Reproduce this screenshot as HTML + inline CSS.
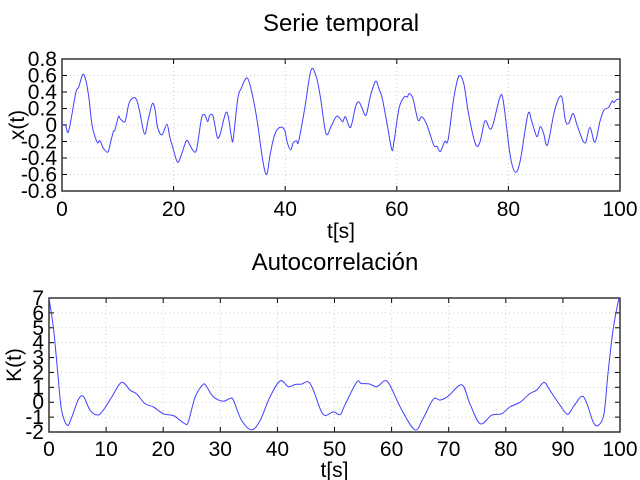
<!DOCTYPE html>
<html><head><meta charset="utf-8"><style>
body{margin:0;background:#fff;}
svg{display:block;font-family:"Liberation Sans",sans-serif;}
</style></head><body>
<svg id="c" width="640" height="480"></svg>
<script>
const topT=[0,0.6,1.1,1.7,2.5,3,3.7,4.2,4.8,5.4,6.3,6.8,7.4,8.2,8.6,9.2,9.5,10.1,10.4,11,11.4,12,12.8,13.4,14,14.8,15.5,16.2,16.7,17.1,17.9,18.8,19.3,19.9,20.7,21.4,22.3,22.9,23.4,24.1,25,25.6,26.1,26.5,27.1,27.8,28.3,29.3,29.8,30.4,30.7,31.5,32.1,33.2,34.2,35,36,36.7,37.3,38.1,39,39.9,40.4,41,41.4,42,42.4,43.5,44.6,45.5,46.3,47.3,48.2,49.1,49.7,50.3,50.8,51.7,52.6,53.2,53.8,54.5,55.3,56.2,56.8,57.4,58.3,59.1,59.5,60.4,61.3,61.9,62.2,62.9,63.8,64.5,65.4,66.6,67.2,67.8,68.6,69.2,70.2,71.1,72,72.9,74.1,74.9,75.8,76.7,77.3,78.5,79.1,80.3,81.2,82.1,83.5,84.2,85.1,85.7,86.3,87,88.3,89.5,90.2,90.8,91.6,92.4,93.7,94.6,95.5,96.4,97.1,97.9,98.6,98.9,99.4,100];
const topV=[0,0,-0.09,0.1,0.4,0.46,0.61,0.56,0.34,0,-0.21,-0.19,-0.28,-0.33,-0.24,-0.08,-0.06,0.1,0.08,0.04,0.06,0.26,0.33,0.3,0.14,-0.11,0.08,0.26,0.18,-0.02,-0.12,0.01,-0.14,-0.28,-0.45,-0.36,-0.19,-0.24,-0.3,-0.3,0.08,0.12,0.04,0.12,0.1,-0.14,-0.12,0.14,0.1,-0.16,-0.16,0.32,0.44,0.57,0.34,0.04,-0.44,-0.6,-0.36,-0.12,-0.03,-0.06,-0.22,-0.3,-0.22,-0.19,-0.2,0.2,0.66,0.6,0.34,-0.1,-0.02,0.1,0.09,0.04,0.1,-0.03,0.22,0.28,0.2,0.12,0.36,0.53,0.44,0.32,0,-0.3,-0.2,0.2,0.34,0.34,0.38,0.32,0.06,0.1,0,-0.24,-0.26,-0.32,-0.2,-0.18,0.32,0.59,0.5,0.12,-0.23,-0.21,0.05,-0.05,0.02,0.34,0.28,-0.36,-0.57,-0.44,0.13,0.04,-0.14,-0.02,-0.1,-0.24,0.18,0.35,0.06,0.02,0.14,-0.02,-0.22,-0.03,-0.21,0.04,0.18,0.21,0.29,0.27,0.31,0.31];
const botT=[0,0.8,1.6,2.2,3.2,4,5.1,6,7.2,8.5,9.5,11,12.7,14.2,15.4,16.8,18.3,20,21.8,22.9,23.8,24.4,25.6,27,27.6,28.8,30.5,31.7,32.3,33.7,35.5,37,38.7,40.5,41.9,43.1,44.2,45.4,46.3,48,49.8,51,51.8,53.9,54.7,56.2,57.4,58.8,59.7,61.8,64.1,65.5,67.3,68.5,69.9,72.3,73.7,75.5,77.5,79.3,80.7,82.5,84.2,85.4,86.7,87.7,89.5,90.8,91.8,93.3,94.2,95.3,96.2,97.2,97.9,98.8,99.7,100];
const botV=[7,4.9,1.7,-0.54,-1.55,-1,0.14,0.4,-0.54,-0.86,-0.54,0.36,1.33,0.81,0.54,-0.09,-0.32,-0.77,-0.9,-1.2,-1.44,-1.33,0.36,1.2,1.04,0.36,0.07,0.25,0.14,-1.2,-1.85,-1.2,0.36,1.44,1.04,1.2,1.22,1.37,0.81,-0.81,-0.65,-0.83,-0.2,1.35,1.26,1.22,1.04,1.44,1.15,-0.54,-1.85,-1.1,0.2,0.14,0.4,1.17,-0.09,-1.44,-0.88,-0.77,-0.32,0,0.58,0.81,1.33,0.81,-0.2,-0.81,-0.32,0.4,-0.09,-1.33,-1.55,-0.77,1.94,4.87,6.78,7];
const topXTicks=[0,20,40,60,80,100];
const topYTicks=["0.8","0.6","0.4","0.2","0","-0.2","-0.4","-0.6","-0.8"];
const botXTicks=[0,10,20,30,40,50,60,70,80,90,100];
const botYTicks=["7","6","5","4","3","2","1","0","-1","-2"];

const NS="http://www.w3.org/2000/svg";
const svg=document.getElementById('c');
function mk(tag,attrs,parent){const e=document.createElementNS(NS,tag);for(const k in attrs)e.setAttribute(k,attrs[k]);(parent||svg).appendChild(e);return e;}
function txt(s,x,y,size,anchor,parent){const e=mk('text',{x:x,y:y,'font-size':size,'text-anchor':anchor,fill:'#000'},parent);e.textContent=s;return e;}
function smooth(P){
  let d='M'+P[0][0].toFixed(1)+','+P[0][1].toFixed(1);
  for(let i=0;i<P.length-1;i++){
    const p0=P[Math.max(i-1,0)],p1=P[i],p2=P[i+1],p3=P[Math.min(i+2,P.length-1)];
    const c1=[p1[0]+(p2[0]-p0[0])/6,p1[1]+(p2[1]-p0[1])/6];
    const c2=[p2[0]-(p3[0]-p1[0])/6,p2[1]-(p3[1]-p1[1])/6];
    d+=' C'+c1.map(v=>v.toFixed(1)).join(',')+' '+c2.map(v=>v.toFixed(1)).join(',')+' '+p2[0].toFixed(1)+','+p2[1].toFixed(1);
  }
  return d;
}
function panel(o){
  const g=mk('g',{});
  
  
  const sx=t=>o.x0+(t-o.xmin)/(o.xmax-o.xmin)*(o.x1-o.x0);
  const sy=v=>o.y1-(v-o.ymin)/(o.ymax-o.ymin)*(o.y1-o.y0);
  o.xt.forEach(t=>{const X=sx(t);mk('line',{x1:X,x2:X,y1:o.y0,y2:o.y1,stroke:'#ccc','stroke-dasharray':'1,3'},g);
    mk('line',{x1:X,x2:X,y1:o.y1,y2:o.y1-5,stroke:'#000'},g);mk('line',{x1:X,x2:X,y1:o.y0,y2:o.y0+5,stroke:'#000'},g);
    const l=txt(String(t),X,o.y1+o.xlOff,21,'middle',g);});
  o.yt.forEach(s=>{const v=parseFloat(s),Y=sy(v);mk('line',{x1:o.x0,x2:o.x1,y1:Y,y2:Y,stroke:'#ccc','stroke-dasharray':'1,3'},g);
    mk('line',{x1:o.x0,x2:o.x0+5,y1:Y,y2:Y,stroke:'#000'},g);mk('line',{x1:o.x1,x2:o.x1-5,y1:Y,y2:Y,stroke:'#000'},g);
    const l=txt(s,o.x0-5,Y+7,21,'end',g);});
  const box=mk('rect',{x:o.x0,y:o.y0,width:o.x1-o.x0,height:o.y1-o.y0,fill:'none',stroke:'#333','stroke-width':1.5},g);
  
  const P=o.t.map((t,i)=>[sx(t),sy(o.v[i])]);
  const line=mk('path',{d:smooth(P),fill:'none',stroke:'#4040ff','stroke-width':1,'stroke-linejoin':'round'},g);
  
  const ti=txt(o.title,o.tx,o.y0-28,24,'middle',g);
  const xl=txt('t[s]',(o.x0+o.x1)/2,o.y1+o.xtOff,21,'middle',g);
  const yl=txt(o.ylab,0,0,21,'middle',g);yl.setAttribute('transform','translate('+o.ylx+','+(o.y0+o.y1)/2+') rotate(-90)');
  
}
panel({name:'time-series-panel',x0:62,x1:620,y0:59,y1:191,xmin:0,xmax:100,ymin:-0.8,ymax:0.8,xt:topXTicks,yt:topYTicks,t:topT,v:topV,title:'Serie temporal',tx:341,ylab:'x(t)',ylx:24,xlOff:25,xtOff:47});
panel({name:'autocorrelation-panel',x0:49,x1:620,y0:298,y1:432,xmin:0,xmax:100,ymin:-2,ymax:7,xt:botXTicks,yt:botYTicks,t:botT,v:botV,title:'Autocorrelación',tx:335,ylab:'K(t)',ylx:21,xlOff:24,xtOff:45});
</script>
</body></html>
